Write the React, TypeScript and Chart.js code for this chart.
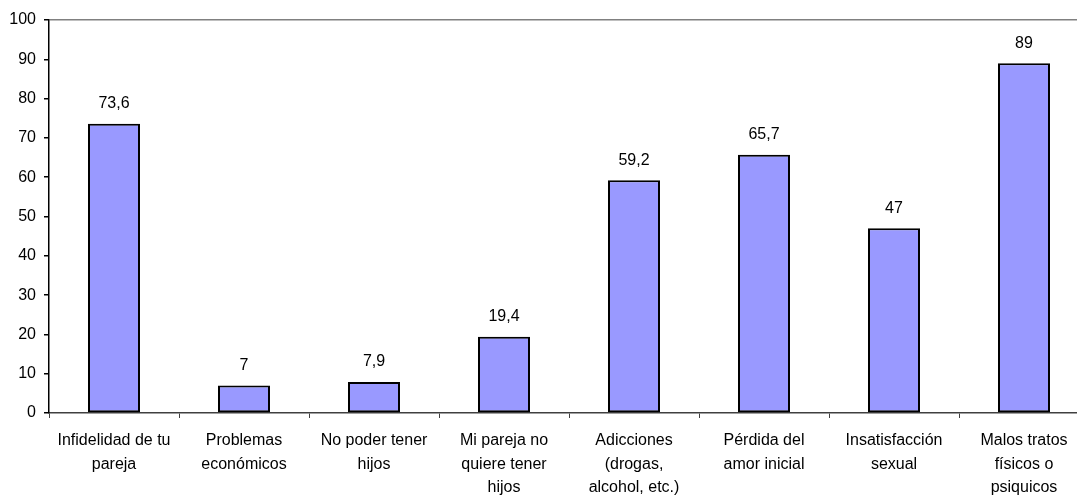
import React, { useEffect, useRef } from "react";
import { Chart, registerables } from "chart.js";

Chart.register(...registerables);

const categories: string[][] = [
  ["Infidelidad de tu", "pareja"],
  ["Problemas", "económicos"],
  ["No poder tener", "hijos"],
  ["Mi pareja no", "quiere tener", "hijos"],
  ["Adicciones", "(drogas,", "alcohol, etc.)"],
  ["Pérdida del", "amor inicial"],
  ["Insatisfacción", "sexual"],
  ["Malos tratos", "físicos o", "psiquicos"],
];
const values: number[] = [73.6, 7, 7.9, 19.4, 59.2, 65.7, 47, 89];
const yTicks: number[] = [0, 10, 20, 30, 40, 50, 60, 70, 80, 90, 100];

const FONT = "'Liberation Sans', Arial, sans-serif";

const valueLabels = {
  id: "valueLabels",
  afterDatasetsDraw(chart: any) {
    const ctx = chart.ctx;
    const meta = chart.getDatasetMeta(0);
    ctx.save();
    ctx.font = `16px ${FONT}`;
    ctx.fillStyle = "#000";
    ctx.textAlign = "center";
    ctx.textBaseline = "middle";
    meta.data.forEach((el: any, i: number) => {
      const txt = String(values[i]).replace(".", ",");
      ctx.fillText(txt, el.x, el.y - 20);
    });
    ctx.restore();
  },
};

export default function App() {
  const ref = useRef<HTMLCanvasElement | null>(null);
  useEffect(() => {
    if (!ref.current) return;
    const chart = new Chart(ref.current, {
      type: "bar",
      data: {
        labels: categories,
        datasets: [
          {
            data: values,
            backgroundColor: "#9999FF",
            borderColor: "#000000",
            borderWidth: 2,
            borderSkipped: false,
            barPercentage: 0.4,
            categoryPercentage: 1,
          },
        ],
      },
      options: {
        responsive: false,
        animation: false,
        layout: { padding: { top: 20, right: 11, left: 0, bottom: 0 } },
        plugins: { legend: { display: false }, tooltip: { enabled: false } },
        scales: {
          x: {
            afterFit: (s: any) => {
              s.height = 82;
            },
            grid: {
              offset: true,
              drawOnChartArea: false,
              drawTicks: true,
              tickLength: 5,
              tickColor: "#404040",
            },
            border: { display: true, color: "#404040", width: 1.5 },
            ticks: {
              font: { family: FONT, size: 16, lineHeight: 1.47 },
              color: "#000",
              padding: 11,
              maxRotation: 0,
              autoSkip: false,
            },
          },
          y: {
            min: 0,
            max: 100,
            afterFit: (s: any) => {
              s.width = 49;
            },
            afterBuildTicks: (s: any) => {
              s.ticks = yTicks.map((v) => ({ value: v }));
            },
            grid: {
              drawOnChartArea: true,
              drawTicks: true,
              tickLength: 5,
              color: (c: any) => (c.tick && c.tick.value === 100 ? "#808080" : "rgba(0,0,0,0)"),
              tickColor: "#000",
              lineWidth: 1.5,
            },
            border: { display: true, color: "#000", width: 1.5 },
            ticks: {
              font: { family: FONT, size: 16 },
              color: "#000",
              padding: 8,
            },
          },
        },
      },
      plugins: [valueLabels],
    });
    return () => chart.destroy();
  }, []);
  return (
    <div
      style={{
        position: "fixed",
        left: 0,
        top: 0,
        width: 1077,
        height: 495,
        overflow: "hidden",
        background: "#fff",
      }}
    >
      <canvas ref={ref} width={1100} height={495} style={{ width: 1100, height: 495, display: "block" }} />
    </div>
  );
}
